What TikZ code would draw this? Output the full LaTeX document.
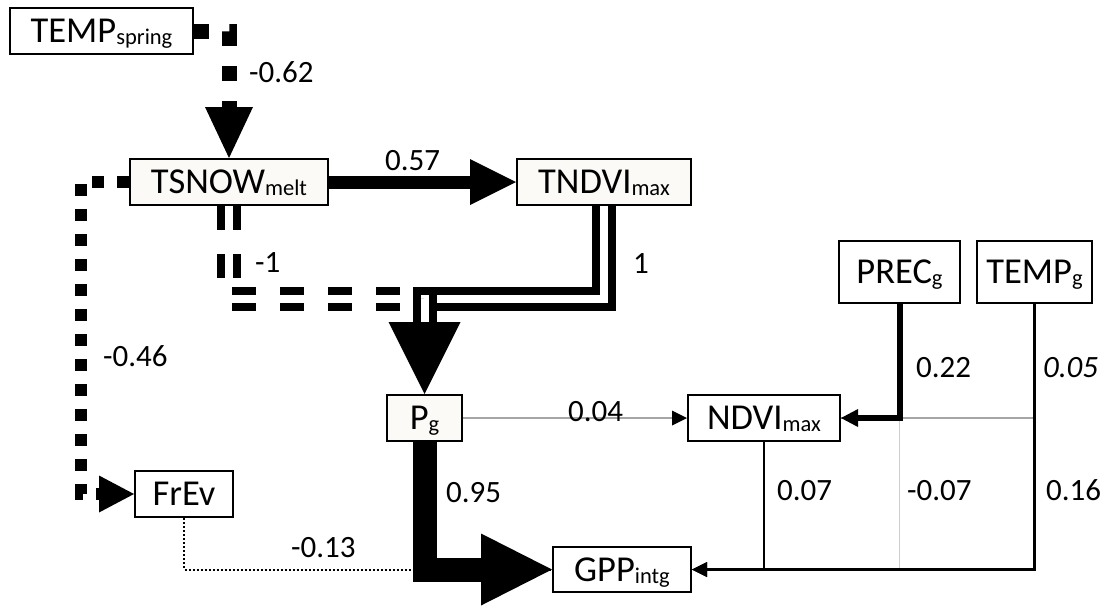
\documentclass[tikz,border=0pt]{standalone}
\usepackage{fontspec}
\setmainfont{Carlito}
\usetikzlibrary{arrows.meta}
\definecolor{cream}{RGB}{251,250,247}
\definecolor{midgray}{RGB}{165,165,165}
\definecolor{lightgr}{RGB}{205,205,205}
\newcommand{\nfont}{\fontsize{36.5}{42}\selectfont}
\newcommand{\lfont}{\fontsize{31}{36}\selectfont}
\newcommand{\subx}[1]{\raisebox{-2pt}{\fontsize{22.5}{26}\selectfont #1}}
\begin{document}
\begin{tikzpicture}[x=1pt,y=-1pt,
  box/.style={draw=black, line width=2pt, fill=white, inner sep=0pt, font=\nfont, text height=23.5pt, text depth=0pt},
  cbox/.style={box, fill=cream},
  lab/.style={font=\lfont, anchor=base west, inner sep=0pt},
  ahead/.style args={#1/#2}{-{Triangle[length=#1pt,width=#2pt,line width=0pt 0 0]}},
  sqdotA/.style={line width=15pt, dash pattern=on 15pt off 20pt},
  sqdotB/.style={line width=12pt, dash pattern=on 12pt off 13pt},
  dbl/.style={line width=8pt, double=white, double distance=8pt},
  thinblack/.style={line width=2.5pt},
  grayline/.style={line width=1.3pt, draw=midgray},
  lgrayline/.style={line width=1.3pt, draw=lightgr}
]
\useasboundingbox (0,0) rectangle (1105,606);

% nodes
\node[box, minimum width=183pt, minimum height=46pt] (tsp) at (101.5,31) {TEMP\subx{spring}};
\node[cbox, minimum width=198pt, minimum height=46pt] (tsn) at (229,182) {TSNOW\subx{melt}};
\node[cbox, minimum width=174pt, minimum height=46pt] (tnd) at (604,182) {TNDVI\subx{max}};
\node[box, minimum width=121pt, minimum height=62pt] (prc) at (899.5,272) {PREC\subx{g}\hspace{14pt}};
\node[box, minimum width=115pt, minimum height=62pt] (tmg) at (1034.5,272) {TEMP\subx{g}};
\node[cbox, minimum width=75pt, minimum height=46pt] (pg) at (424.5,418) {P\subx{g}};
\node[box, minimum width=152pt, minimum height=46pt] (ndv) at (764,418) {NDVI\subx{max}};
\node[box, minimum width=98pt, minimum height=46pt] (frv) at (184,494) {FrEv};
\node[box, minimum width=138pt, minimum height=45pt] (gpp) at (622,569.5) {GPP\subx{intg}};

% gray connectors (under the black ones)
\draw[lgrayline] (prc.south) |- (gpp.east);
\draw[grayline] (tmg.south) |- (ndv.east);
\draw[grayline, -{Triangle[length=15pt,width=15pt,line width=0pt 0 0,color=black]}] (pg.east) -- (ndv.west);

% FrEv -> GPP dotted
\draw[line width=2pt, dash pattern=on 2pt off 2pt] (frv.south) |- (gpp.west);

% black connectors
\draw[sqdotA, ahead=51/48] (tsp.east) -| (tsn.north);
\draw[line width=13pt, ahead=46/46] (tsn.east) -- (tnd.west);
\draw[sqdotB, ahead=35/37] (tsn.west) -- ++(-48,0) |- (frv.west);
\draw[dbl] (tnd.south) |- ([yshift=95pt]pg.north) -- ([yshift=72pt]pg.north);
\draw[dbl, dash pattern=on 24pt off 24pt] (tsn.south) |- ([yshift=95pt]pg.north) -- ([yshift=72pt]pg.north);
\draw[line width=0.5pt, ahead=72/72] ([yshift=72pt]pg.north) -- (pg.north);
\draw[line width=24pt, ahead=71/72] (pg.south) |- (gpp.west);
\draw[line width=6pt, ahead=17/18] (prc.south) |- (ndv.east);
\draw[thinblack, ahead=15/15] (ndv.south) |- (gpp.east);
\draw[thinblack, ahead=15/15] (tmg.south) |- (gpp.east);

% labels
\node[lab] (l1) at (249,82) {-0.62};
\node[lab] (l2) at (385,170) {0.57};
\node[lab] (l3) at (255,272) {-1};
\node[lab] (l4) at (633,273) {1};
\node[lab] (l5) at (103,366) {-0.46};
\node[lab] (l6) at (568,421) {0.04};
\node[lab] (l7) at (916,377) {0.22};
\node[lab] (l8) at (1043,377) {\textit{0.05}};
\node[lab] (l9) at (446,502) {0.95};
\node[lab] (l10) at (291,557) {-0.13};
\node[lab] (l11) at (777,500) {0.07};
\node[lab] (l12) at (907,500) {-0.07};
\node[lab] (l13) at (1046,500) {0.16};
\end{tikzpicture}
\end{document}
